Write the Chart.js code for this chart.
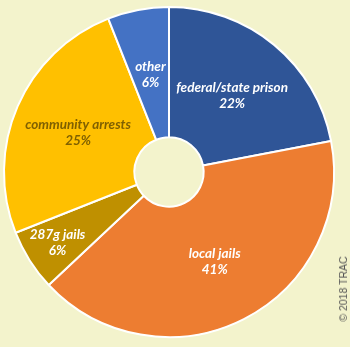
<!DOCTYPE html>
<html>
<head>
<meta charset="utf-8">
<script src="https://cdn.jsdelivr.net/npm/chart.js@4/dist/chart.umd.min.js"></script>
<style>
  html, body { margin: 0; padding: 0; background: #F3F3CC; }
  #wrap { position: relative; width: 350px; height: 347px; overflow: hidden; }
  #credit {
    position: absolute; left: 343px; top: 289px;
    transform: translate(-50%, -50%) rotate(-90deg);
    font: 10.5px "Liberation Sans", Arial, sans-serif; color: #555; white-space: nowrap;
  }
</style>
</head>
<body>
<div id="wrap">
  <canvas id="c" width="350" height="347"></canvas>
  <div id="credit">© 2018 TRAC</div>
</div>
<script>
// Where ICE arrests happen, share of all arrests (clockwise from the top)
const categories = ['federal/state prison', 'local jails', '287g jails', 'community arrests', 'other'];
const shares = [22, 41, 6, 25, 6];
const sliceColors = ['#2F5597', '#ED7D31', '#BF9000', '#FFC000', '#4472C4'];
const labelColors = ['#FFFFFF', '#FFFFFF', '#FFFFFF', '#7F6000', '#FFFFFF'];

// Writes "name" and "nn%" inside each slice
const sliceLabels = {
  id: 'sliceLabels',
  afterDatasetsDraw(chart, args, opts) {
    const ctx = chart.ctx;
    const meta = chart.getDatasetMeta(0);
    ctx.save();
    ctx.font = opts.font;
    ctx.textAlign = 'center';
    ctx.textBaseline = 'middle';
    meta.data.forEach((arc, i) => {
      const p = arc.getProps(['x', 'y', 'startAngle', 'endAngle', 'outerRadius']);
      const mid = (p.startAngle + p.endAngle) / 2;
      const r = p.outerRadius * opts.radius[i];
      const cx = p.x + Math.cos(mid) * r;
      const cy = p.y + Math.sin(mid) * r;
      ctx.fillStyle = labelColors[i];
      ctx.fillText(categories[i], cx, cy - opts.lineGap / 2);
      ctx.fillText(shares[i] + '%', cx, cy + opts.lineGap / 2);
    });
    ctx.restore();
  }
};

new Chart(document.getElementById('c'), {
  type: 'doughnut',
  data: {
    labels: categories,
    datasets: [{
      data: shares,
      backgroundColor: sliceColors,
      borderColor: '#FFFFFF',
      borderWidth: 2
    }]
  },
  options: {
    responsive: false,
    animation: false,
    cutout: '21%',
    layout: { padding: { left: 3, right: 15, top: 6, bottom: 9 } },
    plugins: {
      legend: { display: false },
      tooltip: { enabled: false },
      sliceLabels: {
        font: 'italic bold 13.5px Lato, "Liberation Sans", sans-serif',
        lineGap: 16,
        radius: [0.6, 0.61, 0.8, 0.6, 0.6]
      }
    }
  },
  plugins: [sliceLabels]
});
</script>
</body>
</html>
